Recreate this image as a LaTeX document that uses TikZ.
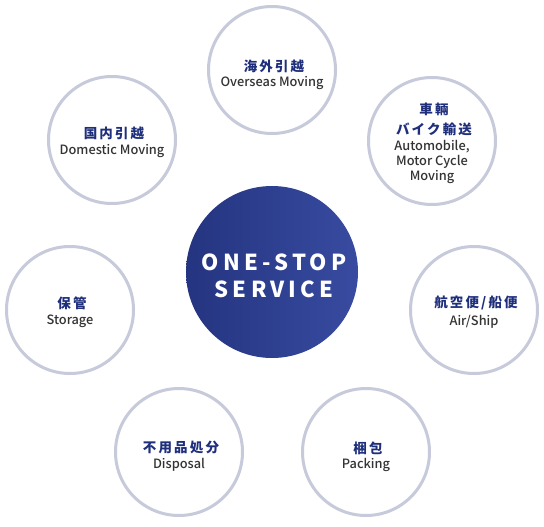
\documentclass[tikz,border=0pt]{standalone}
\usepackage{fontspec}
\setmainfont{Noto Sans CJK JP}
\newfontfamily\jpfont[LetterSpace=16]{Noto Sans CJK JP}
\newfontfamily\enfont{Noto Sans CJK JP Medium}
\newfontfamily\hubfont[LetterSpace=19]{Noto Sans CJK JP}
\definecolor{navy}{HTML}{1F2F7C}
\definecolor{ring}{HTML}{C6CADA}
\definecolor{entext}{HTML}{333333}
\definecolor{hubL}{HTML}{243480}
\definecolor{hubR}{HTML}{384BA0}
\tikzset{
  ringc/.style={circle, draw=ring, line width=3pt, fill=white, minimum size=127pt, inner sep=0pt},
  hubc/.style={circle, minimum size=172pt, inner sep=0pt, left color=hubL, right color=hubR},
  jp/.style={font=\jpfont\bfseries\fontsize{13.5}{20}\selectfont, text=navy, align=center, inner sep=0pt},
  en/.style={font=\enfont\fontsize{12.8}{15}\selectfont, text=entext, align=center, inner sep=0pt},
  hubt/.style={font=\hubfont\bfseries\fontsize{22}{27}\selectfont, text=white, align=center, inner sep=0pt}
}
\begin{document}
\begin{tikzpicture}[x=1pt,y=-1pt]
\useasboundingbox (0,0) rectangle (544,527);
\node[hubc] (hub) at (272,272) {};
\node[hubt] (hubtext) at (274,275.5) {ONE-STOP\\SERVICE};

\node[ringc] (c1) at (272,70) {};
\node[jp] (c1j) at (274,66) {海外引越};
\node[en] (c1e) at (272,83.5) {Overseas Moving};

\node[ringc] (c2) at (432,141) {};
\node[jp] (c2j) at (434,119) {車輛\\バイク輸送};
\node[en] (c2e) at (432,162) {Automobile,\\Motor Cycle\\Moving};

\node[ringc] (c3) at (112,140) {};
\node[jp] (c3j) at (114,133) {国内引越};
\node[en] (c3e) at (112,151.5) {Domestic Moving};

\node[ringc] (c4) at (70,310) {};
\node[jp] (c4j) at (72,303) {保管};
\node[en] (c4e) at (70,321.5) {Storage};

\node[ringc] (c5) at (474,310) {};
\node[jp] (c5j) at (476,303) {航空便/船便};
\node[en] (c5e) at (474,321.5) {Air/Ship};

\node[ringc] (c6) at (179,452) {};
\node[jp] (c6j) at (181,447) {不用品処分};
\node[en] (c6e) at (179,464.5) {Disposal};

\node[ringc] (c7) at (366,452) {};
\node[jp] (c7j) at (368,448) {梱包};
\node[en] (c7e) at (366,464.5) {Packing};
\end{tikzpicture}
\end{document}
